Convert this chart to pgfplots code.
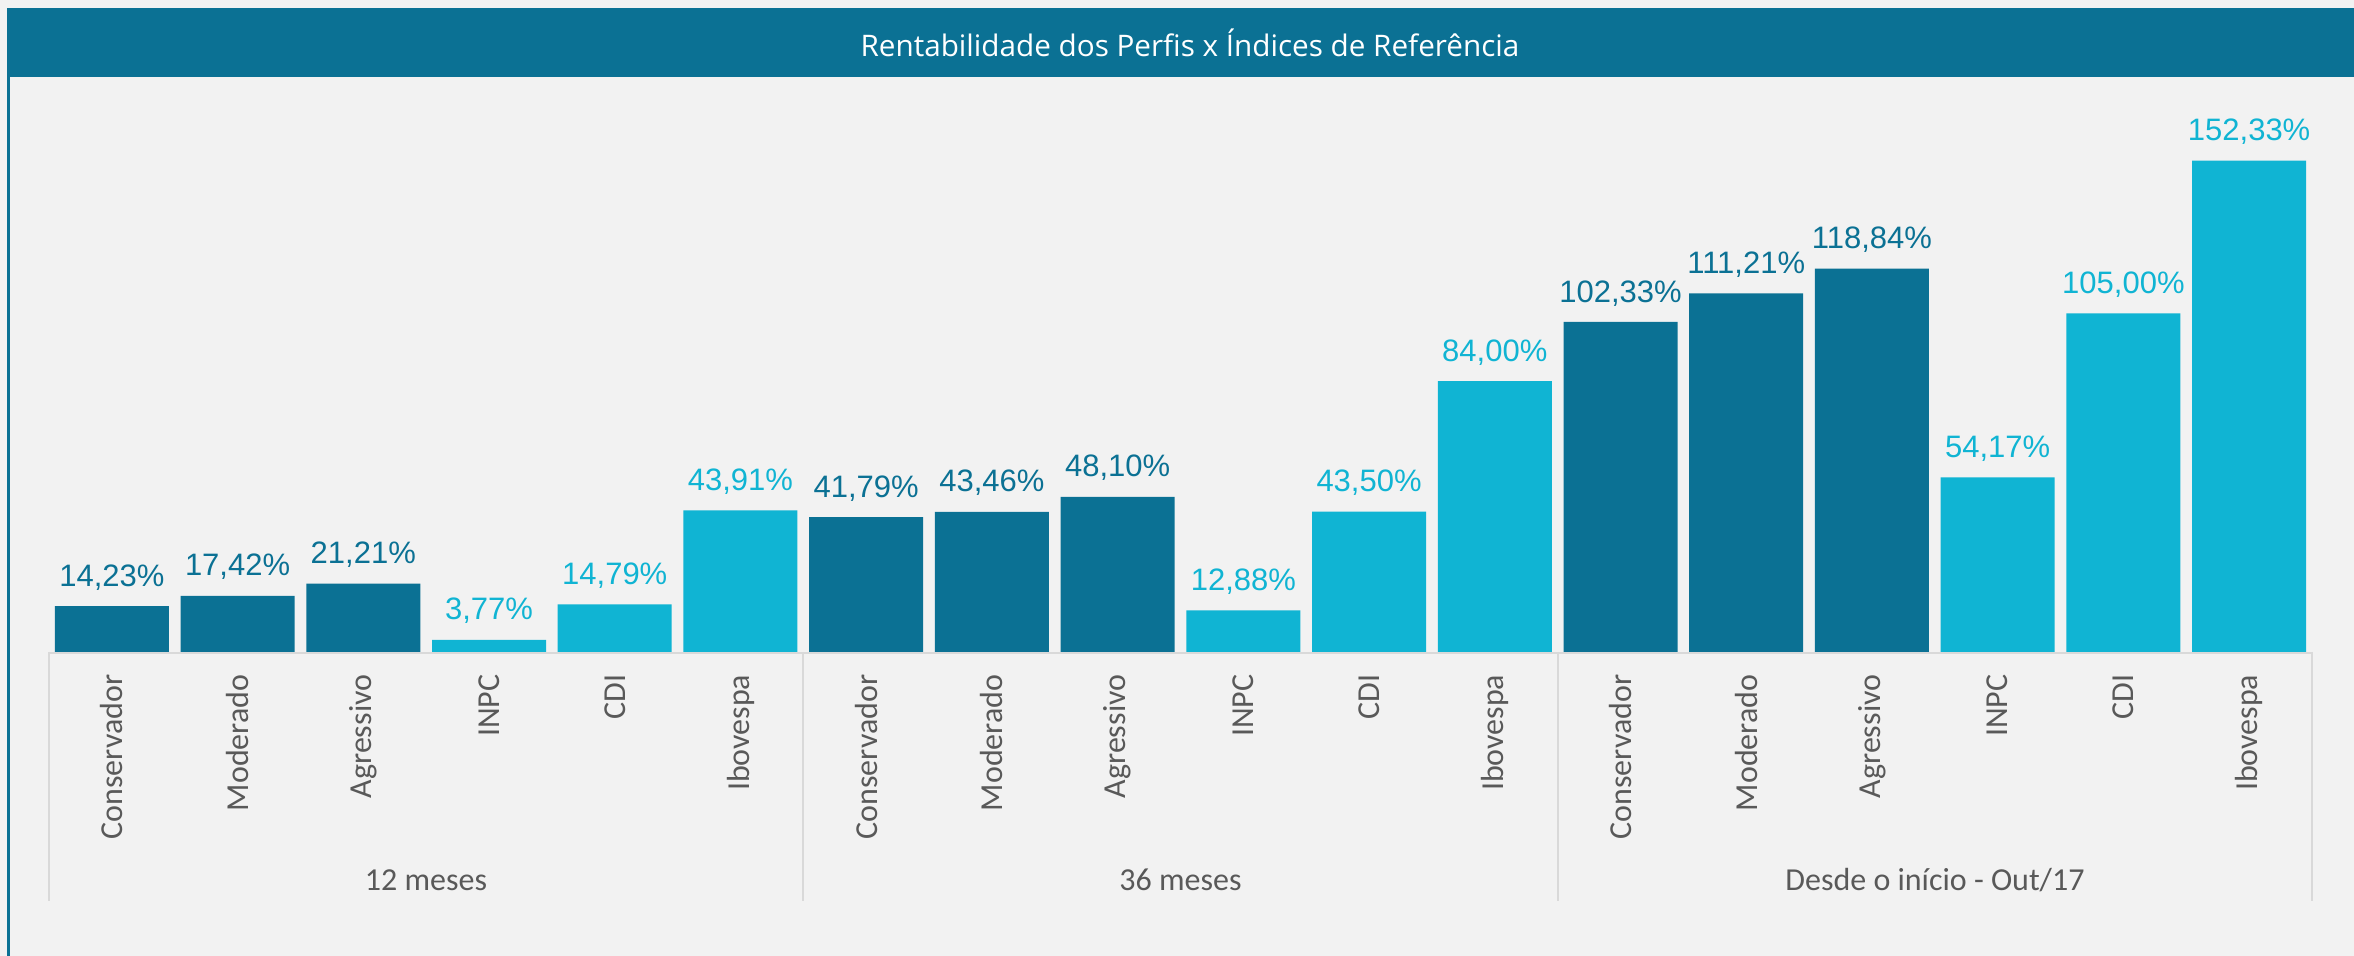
\documentclass[border=0pt]{standalone}
\usepackage{pgfplots}
\pgfplotsset{compat=1.18}
\usepackage{fontspec}
\setmainfont{Liberation Sans}
\newfontfamily\carlito{Carlito}
\newfontfamily\opensans{Open Sans}
\definecolor{dark}{RGB}{11,113,148}
\definecolor{light}{RGB}{16,180,211}
\definecolor{txtgray}{RGB}{89,89,89}
\definecolor{linegray}{RGB}{217,217,217}
\definecolor{bg}{RGB}{242,242,242}
\begin{document}
\begin{tikzpicture}
\begin{scope}[x=0.3pt,y=0.3pt]
\fill[bg] (0,0) rectangle (2354,956);
\fill[dark] (7,879) rectangle (2354,948);
\fill[dark] (7,0) rectangle (10,879);
\node[text=white, font=\opensans\fontsize{8.9}{10}\selectfont] at (1190,913) {Rentabilidade dos Perfis x Índices de Referência};
\end{scope}
\begin{axis}[
  at={(14.7pt,91.2pt)}, anchor=south west,
  scale only axis, width=678.9pt, height=164.475pt,
  xmin=-0.5, xmax=17.5, ymin=0, ymax=170,
  axis line style={draw=none},
  ytick=\empty,
  xtick={0,...,17},
  major tick length=0pt,
  xticklabels={Conservador,Moderado,Agressivo,INPC,CDI,Ibovespa,Conservador,Moderado,Agressivo,INPC,CDI,Ibovespa,Conservador,Moderado,Agressivo,INPC,CDI,Ibovespa},
  xticklabel style={rotate=90, anchor=east, inner sep=0pt, font=\carlito\fontsize{9.6}{11}\selectfont, text=txtgray},
  xticklabel shift=6.6pt,
  clip=false,
  ybar, bar width=34.2pt,
  /pgf/number format/assume math mode=true,
  nodes near coords={\pgfmathprintnumber[fixed, fixed zerofill, precision=2, use comma]{\pgfplotspointmeta}\%},
  every node near coord/.append style={anchor=south, inner sep=0pt, yshift=4.6pt, font=\fontsize{9.3}{10}\selectfont},
]
\draw[linegray, line width=0.6pt] (axis cs:-0.5,-0.3) -- (axis cs:17.5,-0.3);
\draw[linegray, line width=0.6pt] (axis cs:-0.5,0) -- (axis cs:-0.5,-77.2);
\draw[linegray, line width=0.6pt] (axis cs:5.5,0) -- (axis cs:5.5,-77.2);
\draw[linegray, line width=0.6pt] (axis cs:11.5,0) -- (axis cs:11.5,-77.2);
\draw[linegray, line width=0.6pt] (axis cs:17.5,0) -- (axis cs:17.5,-77.2);
\addplot[fill=dark, draw=none, bar shift=0pt, every node near coord/.append style={text=dark}] coordinates {
(0,14.23) (1,17.42) (2,21.21)
(6,41.79) (7,43.46) (8,48.10)
(12,102.33) (13,111.21) (14,118.84)
};
\addplot[fill=light, draw=none, bar shift=0pt, every node near coord/.append style={text=light}] coordinates {
(3,3.77) (4,14.79) (5,43.91)
(9,12.88) (10,43.50) (11,84.00)
(15,54.17) (16,105.00) (17,152.33)
};
\end{axis}
\begin{scope}[x=0.3pt,y=0.3pt]
\node[anchor=base, font=\carlito\fontsize{9.6}{11}\selectfont, text=txtgray] at (426,65) {12 meses};
\node[anchor=base, font=\carlito\fontsize{9.6}{11}\selectfont, text=txtgray] at (1180.5,65) {36 meses};
\node[anchor=base, font=\carlito\fontsize{9.6}{11}\selectfont, text=txtgray] at (1935,65) {Desde o início - Out/17};
\pgfresetboundingbox
\useasboundingbox (0,0) rectangle (2354,956);
\end{scope}
\end{tikzpicture}
\end{document}
